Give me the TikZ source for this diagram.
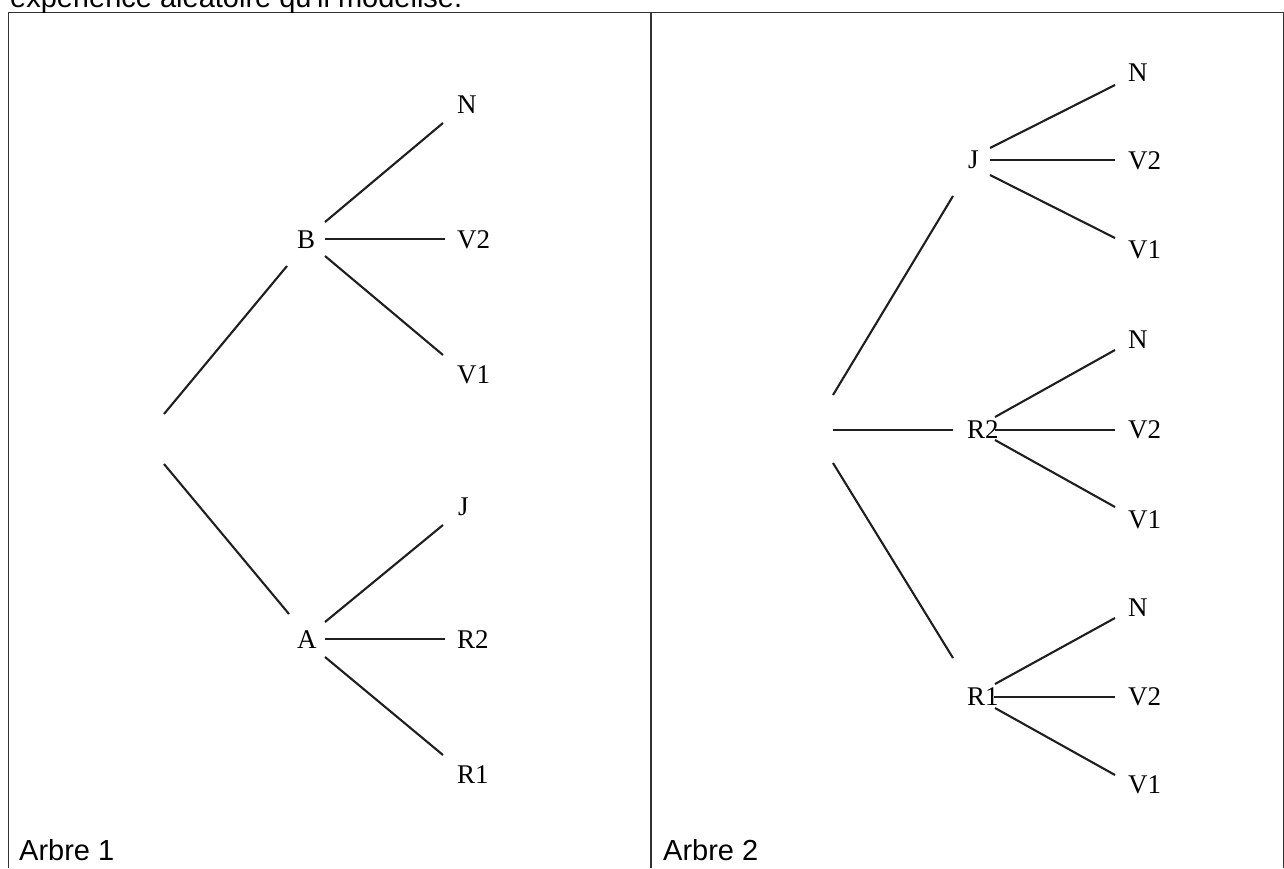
\documentclass[tikz,border=0pt]{standalone}
\usepackage{fontspec}
\setmainfont{Liberation Serif}
\newfontfamily\arialfont{Liberation Sans}
\begin{document}
\begin{tikzpicture}[x=1pt,y=-1pt,
  lbl/.style={inner sep=0pt, anchor=west, font=\fontsize{27}{31}\selectfont},
  captxt/.style={inner sep=0pt, anchor=base west, font=\arialfont\fontsize{29}{34}\selectfont},
  conn/.style={line width=2.1pt, draw=black!88},
  frameline/.style={line width=1.4pt, draw=black!80}]
\useasboundingbox (0,0) rectangle (1284,868);
% frame
\draw[frameline] (8.5,868) -- (8.5,12.5) -- (1284,12.5);
\draw[frameline] (651,12.5) -- (651,868);
\draw[frameline] (1283.5,12.5) -- (1283.5,868);
% texts
\node[captxt] (top) at (10,7) {expérience aléatoire qu'il modélise.};
\node[captxt] (c1) at (19,860) {Arbre 1};
\node[captxt] (c2) at (663,860) {Arbre 2};
% ---------- Tree 1 ----------
\coordinate (r1) at (164,439);
\node[lbl] (B) at (297,240) {B};
\node[lbl] (A) at (297,640) {A};
\node[lbl] (B1) at (457,105) {N};
\node[lbl] (B2) at (457,240) {V2};
\node[lbl] (B3) at (457,375) {V1};
\node[lbl] (A1) at (458,507) {J};
\node[lbl] (A2) at (457,640) {R2};
\node[lbl] (A3) at (457,775) {R1};
\draw[conn] ([shift={(0,-25)}]r1) -- ([shift={(-10,26)}]B.west);
\draw[conn] ([shift={(0,25)}]r1) -- ([shift={(-8,-26)}]A.west);
\draw[conn] ([shift={(28,-18)}]B.west) -- ([shift={(-14,18)}]B1.west);
\draw[conn] ([shift={(28,-1)}]B.west) -- ([shift={(-12,-1)}]B2.west);
\draw[conn] ([shift={(28,16)}]B.west) -- ([shift={(-14,-20)}]B3.west);
\draw[conn] ([shift={(28,-18)}]A.west) -- ([shift={(-15,18)}]A1.west);
\draw[conn] ([shift={(28,-1)}]A.west) -- ([shift={(-12,-1)}]A2.west);
\draw[conn] ([shift={(28,17)}]A.west) -- ([shift={(-14,-20)}]A3.west);
% ---------- Tree 2 ----------
\coordinate (r2) at (833,430);
\node[lbl] (J) at (968,160) {J};
\node[lbl] (R2) at (967,430) {R2};
\node[lbl] (R1) at (967,697) {R1};
\node[lbl] (J1) at (1128,73) {N};
\node[lbl] (J2) at (1128,161) {V2};
\node[lbl] (J3) at (1128,250) {V1};
\node[lbl] (S1) at (1128,340) {N};
\node[lbl] (S2) at (1128,430) {V2};
\node[lbl] (S3) at (1128,520) {V1};
\node[lbl] (T1) at (1128,608) {N};
\node[lbl] (T2) at (1128,697) {V2};
\node[lbl] (T3) at (1128,785) {V1};
\draw[conn] ([shift={(0,-35)}]r2) -- ([shift={(-15,36)}]J.west);
\draw[conn] (r2) -- ([shift={(-14,0)}]R2.west);
\draw[conn] ([shift={(0,33)}]r2) -- ([shift={(-14,-39)}]R1.west);
\draw[conn] ([shift={(22,-12)}]J.west) -- ([shift={(-13,12)}]J1.west);
\draw[conn] ([shift={(22,0)}]J.west) -- ([shift={(-13,-1)}]J2.west);
\draw[conn] ([shift={(22,15)}]J.west) -- ([shift={(-13,-12)}]J3.west);
\draw[conn] ([shift={(28,-13)}]R2.west) -- ([shift={(-13,10)}]S1.west);
\draw[conn] ([shift={(28,0)}]R2.west) -- ([shift={(-13,0)}]S2.west);
\draw[conn] ([shift={(28,10)}]R2.west) -- ([shift={(-13,-13)}]S3.west);
\draw[conn] ([shift={(28,-13)}]R1.west) -- ([shift={(-13,10)}]T1.west);
\draw[conn] ([shift={(27,0)}]R1.west) -- ([shift={(-13,0)}]T2.west);
\draw[conn] ([shift={(28,11)}]R1.west) -- ([shift={(-13,-10)}]T3.west);
\end{tikzpicture}
\end{document}
